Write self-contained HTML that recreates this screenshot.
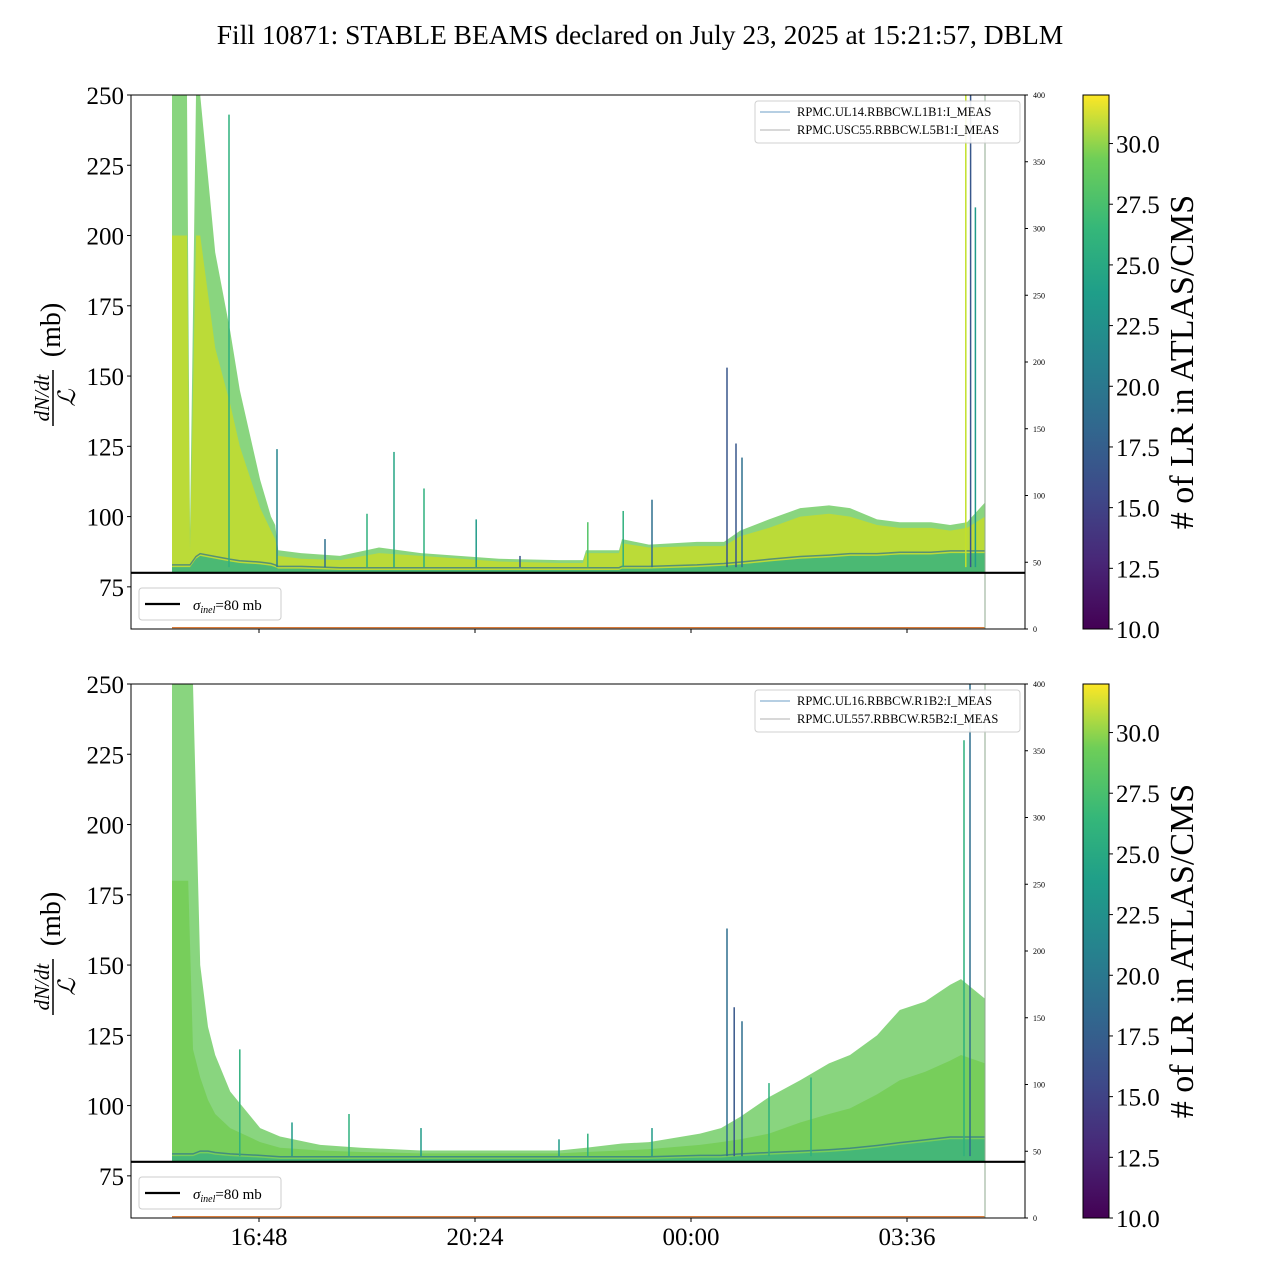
<!DOCTYPE html>
<html><head><meta charset="utf-8"><style>
body{margin:0;background:#fff}
svg text{font-family:"Liberation Serif","DejaVu Serif",serif}
</style></head><body>
<svg id="c" width="1280" height="1280" xmlns="http://www.w3.org/2000/svg">
<defs>
<linearGradient id="vir" x1="0" y1="1" x2="0" y2="0">
<stop offset="0" stop-color="#440154"/><stop offset="0.13" stop-color="#482878"/><stop offset="0.25" stop-color="#3e4989"/><stop offset="0.38" stop-color="#31688e"/><stop offset="0.5" stop-color="#26828e"/><stop offset="0.63" stop-color="#1f9e89"/><stop offset="0.75" stop-color="#35b779"/><stop offset="0.88" stop-color="#6ece58"/><stop offset="1" stop-color="#fde725"/>
</linearGradient>
</defs>
<text x="640" y="44" font-size="27.5" text-anchor="middle">Fill 10871: STABLE BEAMS declared on July 23, 2025 at 15:21:57, DBLM</text>
</svg>
<script>
// shared axis tick data
const yTicks=[75,100,125,150,175,200,225,250];
const y2Ticks=[0,50,100,150,200,250,300,350,400];
const xTickHours=[16.8,20.4,24.0,27.6];
const xTickLabels=["16:48","20:24","00:00","03:36"];
const cbTicks=[10,12.5,15,17.5,20,22.5,25,27.5,30];
// top panel data (hours since midnight of Jul 23)
const topTime=[15.35,15.6,15.65,15.75,15.82,16.07,16.32,16.48,16.82,17.0,17.07,17.12,17.5,18.15,18.8,19.5,20.8,21.8,22.2,22.25,22.8,22.85,23.3,24.1,24.55,24.82,25.3,25.82,26.3,26.65,27.1,27.48,28.0,28.32,28.6,28.9];
const topUpper=[250,250,95,250,250,194,166,145,113,100,97,88,87,86,89,87,85,84.5,84.5,88,88,92,90,91,91,95,99,103,104,103,99,98,98,97,98,105];
const topMid=[200,200,88,200,200,160,140,125,103,95,92,86,85,84.5,87,86,84,83.5,83.5,87,87,90.5,89,89.5,89.5,93,96,100,101,100,97,96,96,95,96,100];
const topLow=[82,82,82,85,86,85,84,83.5,83,82.5,82,81.5,81.5,81,81,81,81,81,81,81,81,81.5,81.5,82,82.5,83,84,85,85.5,86,86,86.5,86.5,87,87,87];
const topSpikeT=[16.3,17.1,17.9,18.6,19.05,19.55,20.42,21.15,22.28,22.87,23.35,24.6,24.75,24.85,28.58,28.66,28.74];
const topSpikeV=[243,124,92,101,123,110,99,86,98,102,106,153,126,121,250,370,210];
const topSpikeC=[24,20,18,24,23,24,22,16,26,24,18,16,16,18,30,16,22];
// bottom panel data
const botTime=[15.35,15.62,15.7,15.82,15.95,16.07,16.32,16.82,17.15,17.82,18.5,19.5,20.8,21.8,22.25,22.85,23.3,24.15,24.5,24.82,25.3,25.82,26.3,26.65,27.1,27.48,27.9,28.32,28.5,28.9];
const botUpper=[250,250,250,150,128,118,105,92,89,86,85,84,84,84,85,86.5,87,90,92,96,103,109,115,118,125,134,137,143,145,138];
const botMid=[180,180,120,110,102,97,92,87,85,84,83.5,83,83,83,83.5,84,84.5,86,87,88,90,94,97,99,104,109,112,116,118,115];
const botLow=[82,82,82,83,83,82.5,82,81.5,81,81,81,81,81,81,81,81,81,81.5,81.5,82,82.5,83,83.5,84,85,86,87,88,88,88];
const botSpikeT=[16.48,17.35,18.3,19.5,21.8,22.28,23.35,24.6,24.72,24.85,25.3,26.0,28.55,28.65];
const botSpikeV=[120,94,97,92,88,90,92,163,135,130,108,110,230,250];
const botSpikeC=[24,22,24,22,22,24,22,18,16,18,24,24,24,18];

const NS="http://www.w3.org/2000/svg";
const svg=document.getElementById('c');
function mk(t,a,p){const e=document.createElementNS(NS,t);for(const k in a)e.setAttribute(k,a[k]);(p||svg).appendChild(e);return e;}
const X0=131,X1=1025;
const xs=h=>259+(h-16.8)*60;
function vir(v){const c=[[68,1,84],[72,40,120],[62,73,137],[49,104,142],[38,130,142],[31,158,137],[53,183,121],[110,206,88],[181,222,43],[253,231,37]];
let t=Math.max(0,Math.min(1,(v-10)/22))*(c.length-1);const i=Math.min(c.length-2,Math.floor(t)),f=t-i;
return 'rgb('+c[i].map((a,j)=>Math.round(a+(c[i+1][j]-a)*f)).join(',')+')';}

function panel(top,name,T,U,M,L,ST,SV,SC,leg){
  const bot=top+534;
  const ys=v=>bot-(v-60)*(534/190);
  const y2=v=>bot-v*(534/400);
  const g=mk('g',{});
  
  
  const clip='cl'+top;
  const cp=mk('clipPath',{id:clip},g);mk('rect',{x:X0,y:top,width:X1-X0,height:534},cp);
  const pg=mk('g',{'clip-path':'url(#'+clip+')'},g);
  function area(upper,lower,fill,op,nm){
    let d='M'+xs(T[0])+','+ys(lower[0]);
    T.forEach((t,i)=>d+='L'+xs(t)+','+ys(upper[i]));
    for(let i=T.length-1;i>=0;i--)d+='L'+xs(T[i])+','+ys(lower[i]);
    const p=mk('path',{d:d+'Z',fill:fill,opacity:op},pg);
    
    
  }
  const base=T.map(()=>80.3);
  area(U,base,'#6ccb5f',0.8,'envelope-area');
  area(M,base,top<300?'#c4dc2c':'#74cd55',0.85,'core-band');
  area(L,base,'#3fb57a',0.9,'low-band');
  let d='';T.forEach((t,i)=>d+=(i?'L':'M')+xs(t)+','+ys(L[i]+0.8));
  const ll=mk('path',{d:d,fill:'none',stroke:'#2c728e',"stroke-width":1.5,opacity:0.7},pg);
  
  
  ST.forEach((t,i)=>{
    const s=mk('line',{x1:xs(t),x2:xs(t),y1:ys(82),y2:ys(SV[i]),stroke:vir(SC[i]),"stroke-width":1.5},pg);
    
    
  });
  const o=mk('line',{x1:xs(15.35),x2:xs(28.9),y1:y2(1),y2:y2(1),stroke:'#d2691e',"stroke-width":1.2},g);
  
  
  const vl=mk('line',{x1:985,x2:985,y1:top,y2:bot,stroke:'#8fa98f',"stroke-width":1},g);
  
  
  const h=mk('line',{x1:X0,x2:X1,y1:ys(80),y2:ys(80),stroke:'#000',"stroke-width":2.2},g);
  
  
  const fr=mk('rect',{x:X0,y:top,width:X1-X0,height:534,fill:'none',stroke:'#000',"stroke-width":1},g);
  
  
  yTicks.forEach(v=>{const y=ys(v);mk('line',{x1:X0-4,x2:X0,y1:y,y2:y,stroke:'#000'},g);
    const t=mk('text',{x:X0-7,y:y+9,"font-size":25,"text-anchor":"end"},g);t.textContent=v;
    
    });
  y2Ticks.forEach(v=>{const y=y2(v);mk('line',{x1:X1,x2:X1+3,y1:y,y2:y,stroke:'#000'},g);
    const t=mk('text',{x:X1+8,y:y+3,"font-size":8},g);t.textContent=v;
    
    });
  xTickHours.forEach(hh=>mk('line',{x1:xs(hh),x2:xs(hh),y1:bot,y2:bot+4,stroke:'#000'},g));
  const yl=mk('g',{transform:'translate(52,'+(top+267)+') rotate(-90)'},g);
  
  
  let t1=mk('text',{x:-36,y:-3,"font-size":21,"font-style":"italic","text-anchor":"middle"},yl);t1.textContent='dN/dt';
  mk('line',{x1:-64,x2:-8,y1:1,y2:1,stroke:'#000',"stroke-width":1.5},yl);
  let t2=mk('text',{x:-36,y:23,"font-size":24,"font-style":"italic","text-anchor":"middle"},yl);t2.textContent='ℒ';
  let t3=mk('text',{x:32,y:8,"font-size":28,"text-anchor":"middle"},yl);t3.textContent='(mb)';
  const lg=mk('g',{},g);
  
  
  mk('rect',{x:755,y:top+6,width:265,height:42,rx:3,fill:'#fff',stroke:'#ccc',opacity:0.9},lg);
  mk('line',{x1:760,x2:790,y1:top+17,y2:top+17,stroke:'#3d7fb5',"stroke-width":0.8},lg);
  mk('line',{x1:760,x2:790,y1:top+35,y2:top+35,stroke:'#999',"stroke-width":0.8},lg);
  let a=mk('text',{x:797,y:top+21,"font-size":12.5},lg);a.textContent=leg[0];
  let b=mk('text',{x:797,y:top+39,"font-size":12.5},lg);b.textContent=leg[1];
  const sl=mk('g',{},g);
  
  
  mk('rect',{x:139,y:bot-41,width:142,height:32,rx:3,fill:'#fff',stroke:'#ccc'},sl);
  mk('line',{x1:145,x2:180,y1:bot-25,y2:bot-25,stroke:'#000',"stroke-width":2.2},sl);
  let s=mk('text',{x:193,y:bot-19,"font-size":15},sl);
  s.innerHTML='<tspan font-style="italic">σ</tspan><tspan font-size="10" font-style="italic" dy="3">inel</tspan><tspan dy="-3">=80 mb</tspan>';
  const cb=mk('g',{},g);
  
  
  mk('rect',{x:1083,y:top,width:26,height:534,fill:'url(#vir)',stroke:'#000',"stroke-width":1},cb);
  cbTicks.forEach(v=>{const y=bot-(v-10)*(534/22);mk('line',{x1:1109,x2:1113,y1:y,y2:y,stroke:'#000'},cb);
    const t=mk('text',{x:1116,y:y+9,"font-size":25},cb);t.textContent=v.toFixed(1);
    
    });
  const ct=mk('text',{x:0,y:0,"font-size":34,"text-anchor":"middle",transform:'translate(1193,'+(top+267)+') rotate(-90)'},cb);
  ct.textContent='# of LR in ATLAS/CMS';
  
  
  return bot;
}
panel(95,'top-panel',topTime,topUpper,topMid,topLow,topSpikeT,topSpikeV,topSpikeC,['RPMC.UL14.RBBCW.L1B1:I_MEAS','RPMC.USC55.RBBCW.L5B1:I_MEAS']);
const bb=panel(684,'bottom-panel',botTime,botUpper,botMid,botLow,botSpikeT,botSpikeV,botSpikeC,['RPMC.UL16.RBBCW.R1B2:I_MEAS','RPMC.UL557.RBBCW.R5B2:I_MEAS']);
xTickHours.forEach((h,i)=>{const t=mk('text',{x:xs(h),y:bb+27,"font-size":25,"text-anchor":"middle"});t.textContent=xTickLabels[i];
  
  });
</script>
</body></html>
